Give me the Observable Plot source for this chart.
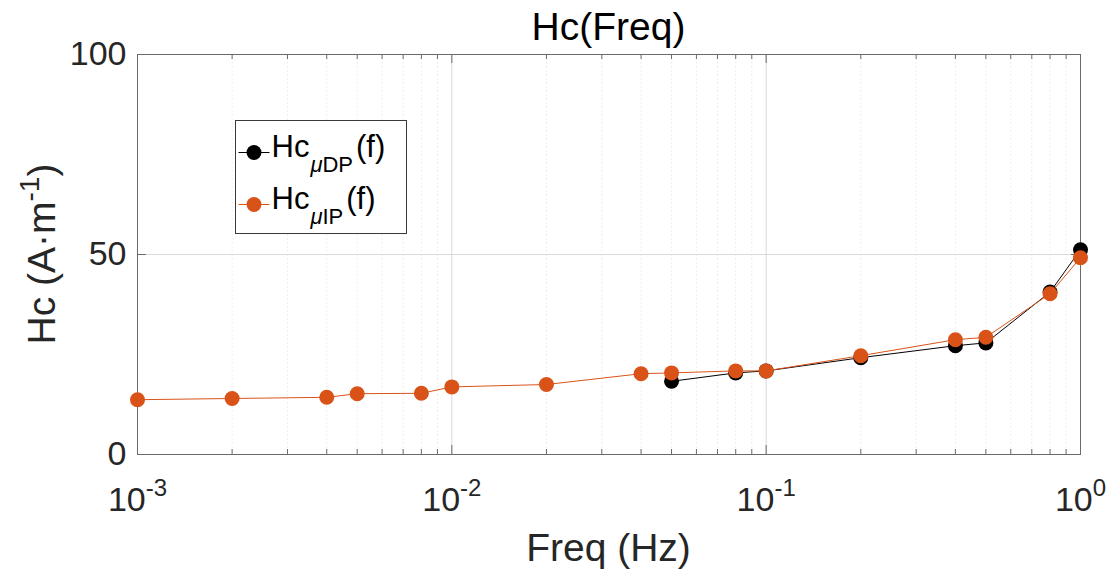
<!DOCTYPE html>
<html>
<head>
<meta charset="utf-8">
<script src="https://cdn.jsdelivr.net/npm/d3@7"></script>
<script src="https://cdn.jsdelivr.net/npm/@observablehq/plot@0.6"></script>
<style>
  body { margin: 0; background: #fff; }
  #chart { position: relative; width: 1112px; height: 573px; }
</style>
</head>
<body>
<div id="chart"></div>
<script>
// ---- data ----
const freqIP = [0.001, 0.002, 0.004, 0.005, 0.008, 0.01, 0.02, 0.04, 0.05, 0.08, 0.1, 0.2, 0.4, 0.5, 0.8, 1];
const hcIP   = [13.7, 14.0, 14.3, 15.2, 15.3, 16.9, 17.5, 20.2, 20.4, 20.9, 20.9, 24.7, 28.7, 29.3, 40.2, 49.2];
const freqDP = [0.05, 0.08, 0.1, 0.2, 0.4, 0.5, 0.8, 1];
const hcDP   = [18.3, 20.4, 20.9, 24.2, 27.2, 27.9, 40.6, 51.2];
const seriesNames = ["DP", "IP"];
const xDecades = [0.001, 0.01, 0.1, 1];
const yTicks = [0, 50, 100];
const titleText = "Hc(Freq)";
const xLabelText = "Freq (Hz)";

// ---- style / layout ----
const FONT = '"Liberation Sans", Arial, Helvetica, sans-serif';
const ORANGE = "#D95319";
const BLACK = "#000000";
const AXIS = "#6a6a6a";
const W = 1112, H = 573, mL = 137, mR = 32, mT = 54, mB = 119;
const fw = W - mL - mR, fh = H - mT - mB;

const minorX = [];
for (const k of [-3, -2, -1]) for (let m = 2; m <= 9; m++) minorX.push(+(m * Math.pow(10, k)).toPrecision(3));
const innerDecades = xDecades.slice(1, -1);

const dp = freqDP.map((f, i) => ({f, hc: hcDP[i]}));
const ip = freqIP.map((f, i) => ({f, hc: hcIP[i]}));

const plot = Plot.plot({
  width: W, height: H,
  marginLeft: mL, marginRight: mR, marginTop: mT, marginBottom: mB,
  x: {type: "log", domain: [0.001, 1]},
  y: {domain: [0, 100]},
  style: {fontFamily: FONT, background: "white", color: "#262626", overflow: "visible"},
  marks: [
    Plot.gridX(minorX, {stroke: "#dedede", strokeOpacity: 0.7, strokeDasharray: "1.5,2.5"}),
    Plot.gridX(innerDecades, {stroke: "#dadada", strokeOpacity: 1}),
    Plot.gridY([50], {stroke: "#dadada", strokeOpacity: 1}),
    // inward ticks (bottom/top/left/right)
    Plot.tickX(xDecades, {x: d => d, insetTop: fh - 9, stroke: AXIS}),
    Plot.tickX(xDecades, {x: d => d, insetBottom: fh - 9, stroke: AXIS}),
    Plot.tickX(minorX, {x: d => d, insetTop: fh - 5, stroke: AXIS}),
    Plot.tickX(minorX, {x: d => d, insetBottom: fh - 5, stroke: AXIS}),
    Plot.tickY(yTicks, {y: d => d, insetRight: fw - 9, stroke: AXIS}),
    Plot.tickY(yTicks, {y: d => d, insetLeft: fw - 9, stroke: AXIS}),
    Plot.frame({stroke: AXIS}),
    Plot.axisX(xDecades, {tickSize: 0, tickPadding: 32, fontSize: 34, label: null,
      tickFormat: d => String(Math.round(Math.log10(d)))}),
    Plot.axisY(yTicks, {tickSize: 0, tickPadding: 11, fontSize: 34, label: null}),
    Plot.line(dp, {x: "f", y: "hc", stroke: BLACK, strokeWidth: 1}),
    Plot.dot(dp, {x: "f", y: "hc", r: 7.5, fill: BLACK, stroke: "none"}),
    Plot.line(ip, {x: "f", y: "hc", stroke: ORANGE, strokeWidth: 1}),
    Plot.dot(ip, {x: "f", y: "hc", r: 7.5, fill: ORANGE, stroke: "none"})
  ]
});

const svg = d3.select(plot);

// superscript exponents on x tick labels: 10^k
svg.selectAll('g[aria-label="x-axis tick label"] text').each(function() {
  const t = d3.select(this);
  const e = this.textContent.replace("\u2212", "-");
  t.text(null);
  t.append("tspan").text("10");
  t.append("tspan").attr("dy", -15).attr("font-size", 24).text(e);
});
svg.selectAll('g[aria-label="x-axis tick label"], g[aria-label="y-axis tick label"]').attr("fill", "#262626");

// title
svg.append("text")
  .attr("x", mL + fw / 2).attr("y", 40)
  .attr("text-anchor", "middle").attr("font-family", FONT).attr("font-size", 39).attr("fill", "#000")
  .text(titleText);

// x label
svg.append("text")
  .attr("x", mL + fw / 2).attr("y", 561)
  .attr("text-anchor", "middle").attr("font-family", FONT).attr("font-size", 39).attr("fill", "#262626")
  .text(xLabelText);

// y label
const yl = svg.append("text")
  .attr("transform", `translate(55,${mT + fh / 2}) rotate(-90)`)
  .attr("text-anchor", "middle").attr("font-family", FONT).attr("font-size", 39).attr("fill", "#262626");
yl.append("tspan").text("Hc (A\u00B7m");
yl.append("tspan").attr("dy", -16).attr("font-size", 28).text("-1");
yl.append("tspan").attr("dy", 16).text(")");

// legend
const lg = svg.append("g").attr("transform", "translate(235.5,120.5)")
  .attr("font-family", FONT).attr("text-anchor", "start");
lg.append("rect").attr("width", 171).attr("height", 113).attr("fill", "white").attr("stroke", "#3a3a3a").attr("stroke-width", 1);
const entries = [{name: seriesNames[0], color: BLACK, y: 32}, {name: seriesNames[1], color: ORANGE, y: 84}];
for (const e of entries) {
  lg.append("line").attr("x1", 3).attr("x2", 34).attr("y1", e.y).attr("y2", e.y).attr("stroke", e.color).attr("stroke-width", 1);
  lg.append("circle").attr("cx", 18.5).attr("cy", e.y).attr("r", 7.5).attr("fill", e.color);
  const t = lg.append("text").attr("x", 36).attr("y", e.y + 4.5).attr("font-size", 31).attr("fill", "#000")
    .attr("text-anchor", "start");
  t.append("tspan").text("Hc");
  t.append("tspan").attr("dy", 15).attr("dx", 1).attr("font-size", 22).attr("font-style", "italic").text("\u03BC");
  t.append("tspan").attr("font-size", 22).text(e.name);
  t.append("tspan").attr("dy", -15).attr("dx", 3).text("(f)");
}

document.getElementById("chart").appendChild(plot);
</script>
</body>
</html>
